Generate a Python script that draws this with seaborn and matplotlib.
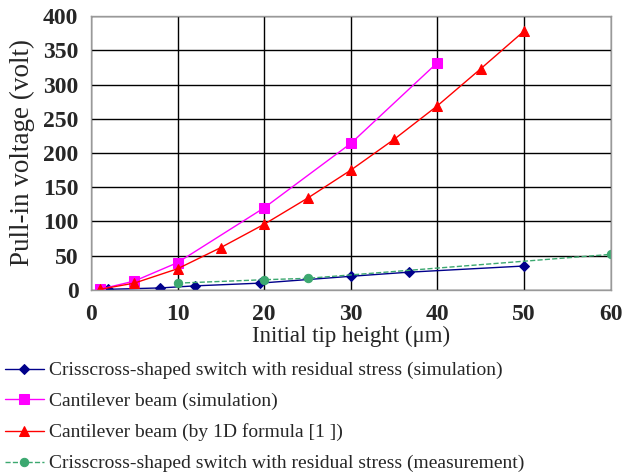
import matplotlib
matplotlib.use("Agg")
from matplotlib import pyplot as plt
import pandas as pd
import seaborn as sns

sns.set_style("white")
plt.rcParams['font.family'] = ['Liberation Serif', 'DejaVu Serif']

# crisscross switch, simulation
cross_sim_x = [2, 8, 12, 19.5, 30, 36.7, 50]
cross_sim_y = [1, 3, 6, 10, 20, 26, 35]

# cantilever beam, simulation
cant_sim_x = [1, 5, 10, 20, 30, 40]
cant_sim_y = [1, 13, 40, 120, 214, 332]

# cantilever beam, 1D formula
cant_1d_x = [1, 5, 10, 15, 20, 25, 30, 35, 40, 45, 50]
cant_1d_y = [1, 10, 31, 62, 96, 134, 175, 220, 269, 323, 378]

# crisscross switch, measurement
cross_meas_x = [10, 20, 25, 60]
cross_meas_y = [10, 15, 17, 52]

labels = [
    "Crisscross-shaped switch with residual stress (simulation)",
    "Cantilever beam (simulation)",
    "Cantilever beam (by 1D formula [1 ])",
    "Crisscross-shaped switch with residual stress (measurement)",
]

fig = plt.figure(figsize=(6.22, 4.75), dpi=100)
ax = fig.add_axes([0.1463, 0.3895, 0.8355, 0.5768])

series = [
    (cross_sim_x, cross_sim_y, "#00008B", "D", 5, "-"),
    (cant_sim_x, cant_sim_y, "#FF00FF", "s", 7, "-"),
    (cant_1d_x, cant_1d_y, "#FF0000", "^", 7.5, "-"),
    (cross_meas_x, cross_meas_y, "#3CA870", "o", 6, "--"),
]

for (xs, ys, col, mk, ms, ls), lab in zip(series, labels):
    df = pd.DataFrame({"x": xs, "y": ys})
    sns.lineplot(data=df, x="x", y="y", ax=ax, color=col, marker=mk,
                 markersize=ms, markeredgecolor=col, linestyle=ls,
                 linewidth=1, label=lab)

ax.set_xlim(0, 60)
ax.set_ylim(0, 400)
ax.set_xticks(range(0, 61, 10))
ax.set_yticks(range(0, 401, 50))
ax.grid(True, color="black", linewidth=1)
ax.set_axisbelow(True)
for s in ax.spines.values():
    s.set_color("#999999")
    s.set_linewidth(1)
ax.tick_params(axis="both", labelsize=17, length=0)
ax.tick_params(axis="y", pad=9)
ax.tick_params(axis="x", pad=10)
for t in ax.get_xticklabels() + ax.get_yticklabels():
    t.set_fontweight("bold")

ax.set_xlabel("Initial tip height (\u03bcm)", fontsize=16.5, labelpad=1)
ax.set_ylabel("Pull-in voltage (volt)", fontsize=19.5, labelpad=6)

ax.legend(loc="upper left", bbox_to_anchor=(-0.166, -0.262), frameon=False,
          fontsize=14, handlelength=2.0, handletextpad=0.3,
          labelspacing=0.68, borderaxespad=0, borderpad=0)

plt.savefig("out.png", dpi=100)
plt.close()
